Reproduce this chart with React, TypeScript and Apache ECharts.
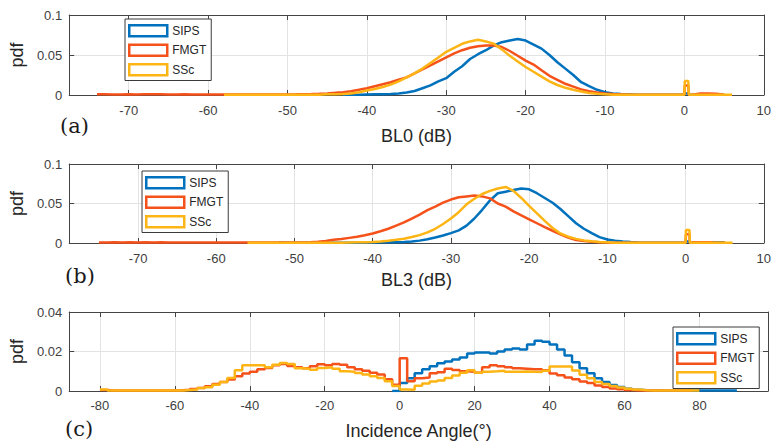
import React, { useEffect, useRef } from "react";
import * as echarts from "echarts";

const FONT = "'Liberation Sans', Arial, Helvetica, sans-serif";
const SERIES_NAMES = ["SIPS", "FMGT", "SSc"];
const COLORS = ["#0072BD", "#F5521B", "#FDB515"];

// ---------- Panel (a): BL0 (dB), 1 dB bins ----------
const A_STARTS = [-43, -74, -58];
const A_SIPS = [
  0.0002, 0.0003, 0.0004, 0.0006, 0.0008, 0.001, 0.0014, 0.002, 0.003, 0.005,
  0.0085, 0.012, 0.017, 0.021, 0.029, 0.036, 0.045, 0.051, 0.056, 0.062,
  0.066, 0.068, 0.07, 0.068, 0.063, 0.058, 0.05, 0.041, 0.033, 0.025,
  0.016, 0.011, 0.0065, 0.0035, 0.002, 0.0012, 0.0008, 0.0004, 0.0003, 0.0002,
  0.0002, 0.0002, 0.0002, 0.0002, 0.0002, 0.0002, 0.0002, 0.0002, 0.0002,
];
const A_FMGT = [
  0.001, 0.001, 0.0005, 0.0005, 0.0008, 0.0005, 0.001, 0.0008, 0.001, 0.0005,
  0.0005, 0.001, 0.0005, 0.0005, 0.0005, 0.0005, 0.0005, 0.0005, 0.0005, 0.0005,
  0.0005, 0.0006, 0.0006, 0.0007, 0.0007, 0.0008, 0.001, 0.0012, 0.0015, 0.002,
  0.0027, 0.0035, 0.0047, 0.0065, 0.0085, 0.011, 0.0135, 0.016, 0.019, 0.022,
  0.027, 0.032, 0.037, 0.042, 0.047, 0.052, 0.056, 0.059, 0.061, 0.062,
  0.062, 0.06, 0.055, 0.049, 0.043, 0.038, 0.031, 0.024, 0.019, 0.014,
  0.0105, 0.007, 0.0048, 0.003, 0.002, 0.0012, 0.0008, 0.0005, 0.0004, 0.0004,
  0.0004, 0.0004, 0.0004, 0.0004, 0.0004, 0.0004, 0.002, 0.002, 0.0015, 0.0004,
];
const A_SSC = [
  0.0003, 0.0003, 0.0003, 0.0003, 0.0003, 0.0003, 0.0003, 0.0003, 0.0003, 0.0003,
  0.0003, 0.0003, 0.0003, 0.0008, 0.001, 0.0014, 0.002, 0.0035, 0.0055, 0.0075,
  0.01, 0.013, 0.017, 0.022, 0.027, 0.033, 0.04, 0.047, 0.054, 0.059,
  0.064, 0.067, 0.069, 0.067, 0.064, 0.057, 0.049, 0.042, 0.035, 0.029,
  0.023, 0.017, 0.0125, 0.009, 0.0065, 0.0045, 0.0025, 0.0015, 0.001, 0.0004,
  0.0004, 0.0004, 0.0004, 0.0004, 0.0004, 0.0004, 0.0004, 0.0004, 0.0004, 0.0004,
  0.0004, 0.0004, 0.0004, 0.0004, 0.0004,
];
const A_SPIKES = [0.002, 0.012, 0.0175];

// ---------- Panel (b): BL3 (dB), 1 dB bins ----------
const B_STARTS = [-52, -75, -56];
const B_SIPS = [
  0.0008, 0.0002, 0.0002, 0.0002, 0.0002, 0.0002, 0.0002, 0.0002, 0.0002, 0.0003,
  0.0004, 0.0005, 0.0006, 0.0008, 0.0009, 0.001, 0.0013, 0.002, 0.003, 0.0047,
  0.007, 0.0095, 0.0125, 0.016, 0.022, 0.031, 0.042, 0.054, 0.063, 0.065,
  0.067, 0.069, 0.068, 0.063, 0.057, 0.051, 0.043, 0.034, 0.025, 0.018,
  0.0125, 0.0075, 0.0045, 0.003, 0.002, 0.0012, 0.0006, 0.0003, 0.0002, 0.0002,
  0.0002, 0.0002, 0.0002, 0.0002, 0.0002, 0.0002, 0.001, 0.001,
];
const B_FMGT = [
  0.0005, 0.0005, 0.001, 0.0005, 0.001, 0.0005, 0.001, 0.0005, 0.001, 0.0005,
  0.0005, 0.0005, 0.0005, 0.0005, 0.0005, 0.0005, 0.0005, 0.0005, 0.0005, 0.0005,
  0.0005, 0.0005, 0.0005, 0.0005, 0.0005, 0.0006, 0.0007, 0.0008, 0.0015, 0.0025,
  0.004, 0.005, 0.0065, 0.008, 0.0098, 0.012, 0.0148, 0.018, 0.022, 0.026,
  0.031, 0.036, 0.0415, 0.046, 0.051, 0.055, 0.058, 0.059, 0.06, 0.059,
  0.0565, 0.05, 0.046, 0.04, 0.035, 0.03, 0.025, 0.02, 0.0155, 0.011,
  0.0068, 0.0038, 0.0026, 0.0016, 0.001, 0.0006, 0.0004, 0.0004, 0.0004, 0.0004,
  0.0004, 0.0004, 0.0004, 0.0004, 0.0004, 0.0004, 0.001, 0.001, 0.001, 0.0004, 0.0004,
];
const B_SSC = [
  0.0003, 0.0003, 0.0003, 0.0003, 0.0003, 0.0003, 0.0003, 0.0003, 0.0003, 0.0003,
  0.0003, 0.0003, 0.0003, 0.0006, 0.0008, 0.001, 0.0014, 0.002, 0.0028, 0.004,
  0.0055, 0.0075, 0.01, 0.0135, 0.018, 0.024, 0.031, 0.039, 0.049, 0.056,
  0.062, 0.066, 0.069, 0.071, 0.066, 0.057, 0.047, 0.0376, 0.028, 0.019,
  0.012, 0.008, 0.0052, 0.0033, 0.0022, 0.0013, 0.0008, 0.0004, 0.0004, 0.0004,
  0.0004, 0.0004, 0.0004, 0.0004, 0.0004, 0.0004, 0.0004, 0.0004, 0.0004, 0.0004,
  0.0004, 0.0004, 0.0004,
];
const B_SPIKES = [0.002, 0.011, 0.0165];

// ---------- Panel (c): Incidence angle, 2 degree bins (left edges) ----------
const C_STARTS = [-2, -80, -80];
const C_SIPS = [
  0, 0.004, 0.0065, 0.009, 0.011, 0.0125, 0.014, 0.015, 0.016, 0.017,
  0.019, 0.0195, 0.0195, 0.019, 0.02, 0.021, 0.0215, 0.021, 0.0235, 0.0255,
  0.025, 0.0235, 0.021, 0.018, 0.0145, 0.0115, 0.009, 0.0065, 0.0045, 0.003,
  0.002, 0.0012, 0.0006, 0.0004, 0.0003, 0.0002, 0.0001, 0.0001, 0.0001, 0.0002,
  0.0002, 0.0002, 0.0002, 0.0002, 0.0002, 0.0002,
];
const C_FMGT = [
  0.0005, 0.0002, 0.0002, 0.0002, 0.0002, 0.0002, 0.0002, 0.0002, 0.0002, 0.0002,
  0.0004, 0.0006, 0.001, 0.0015, 0.0024, 0.0035, 0.0046, 0.0058, 0.0075, 0.0088,
  0.0097, 0.011, 0.0117, 0.013, 0.0137, 0.0127, 0.012, 0.0115, 0.0125, 0.0135,
  0.013, 0.0137, 0.0133, 0.012, 0.011, 0.0102, 0.0092, 0.0083, 0.006, 0.0032,
  0.0166, 0.005, 0.0065, 0.0068, 0.009, 0.0095, 0.0113, 0.0106, 0.01, 0.0097,
  0.0093, 0.012, 0.013, 0.0125, 0.012, 0.0115, 0.0113, 0.011, 0.011, 0.0105,
  0.0088, 0.008, 0.0068, 0.006, 0.0048, 0.004, 0.0028, 0.002, 0.0013, 0.0009,
  0.0005, 0.0003, 0.0002, 0.0002, 0.0002, 0.0002, 0.0002, 0.0002, 0.0002,
];
const C_SSC = [
  0.0008, 0.0002, 0.0002, 0.0002, 0.0002, 0.0002, 0.0002, 0.0002, 0.0002, 0.0002,
  0.0003, 0.0005, 0.0008, 0.0015, 0.0019, 0.0032, 0.0046, 0.0066, 0.0105, 0.013,
  0.013, 0.013, 0.012, 0.0133, 0.0142, 0.0137, 0.0115, 0.0113, 0.0108, 0.0117,
  0.012, 0.0113, 0.01, 0.0097, 0.0091, 0.0083, 0.0075, 0.0066, 0.0049, 0.0025,
  0.0007, 0.0006, 0.0027, 0.0038, 0.0048, 0.0053, 0.0066, 0.0078, 0.0092, 0.0105,
  0.0092, 0.0098, 0.01, 0.0103, 0.0098, 0.0098, 0.0099, 0.0097, 0.0096, 0.0103,
  0.0124, 0.0124, 0.0124, 0.0104, 0.0082, 0.0064, 0.0045, 0.0035, 0.0025, 0.0018,
  0.0011, 0.0007, 0.0004, 0.0002, 0.0002, 0.0002, 0.0002, 0.0002, 0.0002, 0.0002,
];
const C_BIN = 2;

// ---------- Axes ----------
const X_RANGES = [[-77.5, 10], [-78.8, 10], [-88.2, 98.3]];
const X_STEPS = [10, 10, 20];
const Y_MAX = [0.1, 0.1, 0.04];
const Y_STEPS = [0.05, 0.05, 0.02];
const X_NAMES = ["BL0 (dB)", "BL3 (dB)", "Incidence Angle(°)"];
const PANEL_TAGS = ["(a)", "(b)", "(c)"];

function buildDb(start: number, vals: number[], spike: number): number[][] {
  const pts: number[][] = [];
  vals.forEach((v, i) => {
    const x = start + i;
    pts.push([x, v]);
    if (x === 0) {
      pts.push([0.05, spike], [0.5, spike], [0.55, v]);
    }
  });
  return pts;
}

function buildHist(start: number, vals: number[]): number[][] {
  const pts = vals.map((v, i) => [start + i * C_BIN, v]);
  pts.push([start + vals.length * C_BIN, vals[vals.length - 1]]);
  return pts;
}

export default function App() {
  const ref = useRef<HTMLDivElement>(null);

  useEffect(() => {
    if (!ref.current) return;
    const chart = echarts.init(ref.current, null, { renderer: "svg" });

    const grids = [
      { left: 67, top: 15, width: 701, height: 80 },
      { left: 67, top: 164, width: 701, height: 79 },
      { left: 67, top: 312, width: 701, height: 79 },
    ];
    const nameGaps = [32, 28, 31];
    const labelMargins = [9, 9, 8];
    const axisColor = "#454545";
    const gridColor = "#e3e3e3";

    const xAxes: any[] = [];
    const yAxes: any[] = [];
    for (let i = 0; i < 3; i++) {
      xAxes.push({
        type: "value",
        gridIndex: i,
        position: "bottom",
        min: X_RANGES[i][0],
        max: X_RANGES[i][1],
        minInterval: X_STEPS[i],
        maxInterval: X_STEPS[i],
        splitNumber: 9,
        name: X_NAMES[i],
        nameLocation: "middle",
        nameGap: nameGaps[i],
        nameTextStyle: { fontSize: 18, color: "#262626", fontFamily: FONT },
        axisLine: { show: true, onZero: false, lineStyle: { color: axisColor, width: 1 } },
        axisTick: { show: true, inside: true, length: 5, lineStyle: { color: axisColor } },
        axisLabel: {
          show: true,
          margin: labelMargins[i],
          fontSize: 13,
          color: "#404040",
          fontFamily: FONT,
          showMinLabel: false,
          showMaxLabel: i < 2,
        },
        splitLine: { show: true, lineStyle: { color: gridColor, width: 1 } },
      });
    }
    for (let i = 0; i < 3; i++) {
      xAxes.push({
        type: "value",
        gridIndex: i,
        position: "top",
        min: X_RANGES[i][0],
        max: X_RANGES[i][1],
        minInterval: X_STEPS[i],
        maxInterval: X_STEPS[i],
        splitNumber: 9,
        axisLine: { show: true, onZero: false, lineStyle: { color: axisColor, width: 1 } },
        axisTick: { show: true, inside: true, length: 5, lineStyle: { color: axisColor } },
        axisLabel: { show: false },
        splitLine: { show: false },
      });
    }
    for (let i = 0; i < 3; i++) {
      yAxes.push({
        type: "value",
        gridIndex: i,
        position: "left",
        min: 0,
        max: Y_MAX[i],
        interval: Y_STEPS[i],
        name: "pdf",
        nameLocation: "middle",
        nameGap: 33,
        nameRotate: 90,
        nameTextStyle: { fontSize: 18, color: "#262626", fontFamily: FONT },
        axisLine: { show: true, onZero: false, lineStyle: { color: axisColor, width: 1 } },
        axisTick: { show: true, inside: true, length: 5, lineStyle: { color: axisColor } },
        axisLabel: { show: true, margin: 7, fontSize: 13, color: "#404040", fontFamily: FONT },
        splitLine: { show: true, lineStyle: { color: gridColor, width: 1 } },
      });
    }
    for (let i = 0; i < 3; i++) {
      yAxes.push({
        type: "value",
        gridIndex: i,
        position: "right",
        min: 0,
        max: Y_MAX[i],
        interval: Y_STEPS[i],
        axisLine: { show: true, onZero: false, lineStyle: { color: axisColor, width: 1 } },
        axisTick: { show: true, inside: true, length: 5, lineStyle: { color: axisColor } },
        axisLabel: { show: false },
        splitLine: { show: false },
      });
    }

    const series: any[] = [];
    const aVals = [A_SIPS, A_FMGT, A_SSC];
    const bVals = [B_SIPS, B_FMGT, B_SSC];
    const cVals = [C_SIPS, C_FMGT, C_SSC];
    const lineBase = (k: number) => ({
      type: "line",
      name: SERIES_NAMES[k],
      symbol: "none",
      showSymbol: false,
      itemStyle: { color: COLORS[k] },
      lineStyle: { color: COLORS[k], width: 2.5 },
      silent: true,
    });
    for (let k = 0; k < 3; k++) {
      series.push({
        ...lineBase(k),
        xAxisIndex: 0,
        yAxisIndex: 0,
        data: buildDb(A_STARTS[k], aVals[k], A_SPIKES[k]),
      });
    }
    for (let k = 0; k < 3; k++) {
      series.push({
        ...lineBase(k),
        xAxisIndex: 1,
        yAxisIndex: 1,
        data: buildDb(B_STARTS[k], bVals[k], B_SPIKES[k]),
      });
    }
    for (let k = 0; k < 3; k++) {
      series.push({
        ...lineBase(k),
        xAxisIndex: 2,
        yAxisIndex: 2,
        step: "end",
        data: buildHist(C_STARTS[k], cVals[k]),
      });
    }

    const legendBase = {
      orient: "vertical",
      icon: "rect",
      itemWidth: 38,
      itemHeight: 11,
      itemGap: 6,
      padding: [5, 5, 4, 3],
      backgroundColor: "#ffffff",
      borderColor: "#3a3a3a",
      borderWidth: 1,
      selectedMode: false,
      textStyle: { fontSize: 12, color: "#262626", fontFamily: FONT },
      data: SERIES_NAMES.map((n, k) => ({
        name: n,
        icon: "rect",
        itemStyle: { color: "#ffffff", borderColor: COLORS[k], borderWidth: 2.5 },
      })),
    };

    const tagTops = [127, 277, 430];
    const tagLefts = [60, 65, 65];

    chart.setOption({
      animation: false,
      grid: grids,
      xAxis: xAxes,
      yAxis: yAxes,
      legend: [
        { ...legendBase, left: 125, top: 19 },
        { ...legendBase, left: 142, top: 171 },
        { ...legendBase, left: 673, top: 327 },
      ],
      graphic: PANEL_TAGS.map((t, i) => ({
        type: "text",
        left: tagLefts[i],
        top: tagTops[i] - 12,
        style: {
          text: t,
          fontSize: 21,
          fontFamily: "'DejaVu Serif', 'Liberation Serif', serif",
          fill: "#1a1a1a",
        },
      })),
      series,
    });

    return () => chart.dispose();
  }, []);

  return (
    <div
      ref={ref}
      style={{ position: "absolute", left: 0, top: 0, width: 774, height: 445, background: "#fff" }}
    />
  );
}
